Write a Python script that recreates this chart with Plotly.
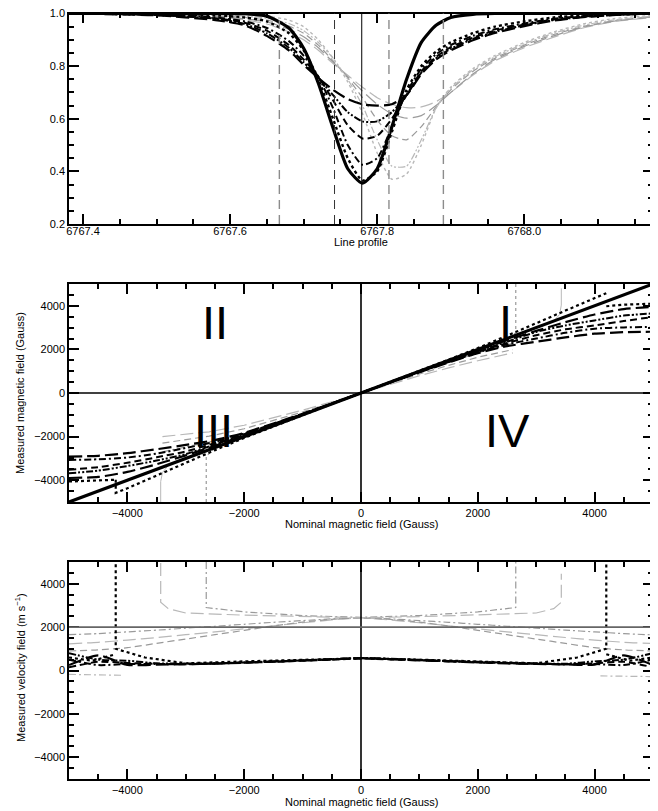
import plotly.graph_objects as go

FONT = "Liberation Sans, Arial, Helvetica, sans-serif"
# the page adds an 8px body margin, so the figure is drawn 8px smaller and offset
OFF = 8
W, H = 658 - OFF, 811 - OFF

# ---------------- Panel 1: line profiles ----------------
wavelength = [6767.38, 6767.50, 6767.58, 6767.62, 6767.65, 6767.68, 6767.70, 6767.72,
              6767.74, 6767.76, 6767.78, 6767.80, 6767.82, 6767.84, 6767.86, 6767.88,
              6767.90, 6767.93, 6767.96, 6768.00, 6768.04, 6768.08, 6768.12, 6768.175]
prof_black_thick = [1.0, 1.0, 1.0, 0.999, 0.99, 0.945, 0.868, 0.735, 0.565, 0.41, 0.355, 0.41,
                    0.57, 0.75, 0.89, 0.955, 0.985, 0.997, 1.0, 1.0, 1.0, 1.0, 1.0, 1.0]
prof_black_dot = [1.0, 0.998, 0.993, 0.985, 0.97, 0.925, 0.86, 0.75, 0.6, 0.45, 0.365, 0.40,
                  0.55, 0.71, 0.80, 0.855, 0.89, 0.925, 0.95, 0.97, 0.985, 0.993, 0.998, 1.0]
prof_black_dashdot = [1.0, 0.996, 0.985, 0.97, 0.945, 0.895, 0.84, 0.76, 0.64, 0.5, 0.425, 0.45,
                      0.57, 0.7, 0.79, 0.845, 0.88, 0.915, 0.94, 0.962, 0.98, 0.99, 0.996, 1.0]
prof_black_dash = [1.0, 0.995, 0.982, 0.965, 0.935, 0.88, 0.825, 0.76, 0.67, 0.575, 0.525, 0.535,
                   0.6, 0.69, 0.78, 0.835, 0.872, 0.908, 0.935, 0.958, 0.977, 0.988, 0.995, 1.0]
prof_black_dashdotdot = [1.0, 0.994, 0.98, 0.96, 0.925, 0.87, 0.815, 0.755, 0.69, 0.625, 0.59, 0.59,
                         0.625, 0.69, 0.775, 0.83, 0.866, 0.903, 0.93, 0.955, 0.975, 0.987, 0.994, 1.0]
prof_black_longdash = [1.0, 0.993, 0.975, 0.955, 0.915, 0.86, 0.805, 0.755, 0.71, 0.675, 0.655, 0.65,
                       0.655, 0.69, 0.77, 0.825, 0.86, 0.898, 0.926, 0.952, 0.973, 0.986, 0.994, 1.0]
prof_gray_dot = [1.0, 1.0, 0.998, 0.995, 0.99, 0.975, 0.95, 0.9, 0.83, 0.74, 0.62, 0.47,
                 0.37, 0.39, 0.5, 0.64, 0.72, 0.79, 0.84, 0.89, 0.93, 0.96, 0.98, 0.993]
prof_gray_dashdotdot = [1.0, 0.999, 0.996, 0.99, 0.982, 0.962, 0.935, 0.89, 0.83, 0.75, 0.65, 0.52,
                        0.42, 0.42, 0.52, 0.64, 0.715, 0.785, 0.835, 0.885, 0.925, 0.955, 0.975, 0.99]
prof_gray_dash = [1.0, 0.998, 0.993, 0.985, 0.975, 0.952, 0.925, 0.88, 0.82, 0.755, 0.68, 0.595,
                  0.535, 0.52, 0.57, 0.645, 0.71, 0.78, 0.83, 0.88, 0.92, 0.95, 0.972, 0.988]
prof_gray_longdash = [1.0, 0.997, 0.99, 0.98, 0.968, 0.94, 0.912, 0.87, 0.815, 0.76, 0.705, 0.655,
                      0.618, 0.602, 0.612, 0.65, 0.7, 0.77, 0.825, 0.875, 0.915, 0.948, 0.97, 0.987]
prof_gray_light = [1.0, 0.996, 0.988, 0.976, 0.96, 0.93, 0.9, 0.86, 0.81, 0.765, 0.72, 0.68,
                   0.655, 0.642, 0.645, 0.665, 0.7, 0.765, 0.82, 0.87, 0.91, 0.945, 0.968, 0.985]
filter_positions_gray = [6767.667, 6767.816, 6767.890]
filter_positions_black = [6767.742]
line_centre = [6767.779]
profile_xticks = [6767.4, 6767.6, 6767.8, 6768.0]
profile_yticks = [0.2, 0.4, 0.6, 0.8, 1.0]

# ---------------- Panel 2: measured vs nominal field ----------------
b_nominal = [-5000, -4500, -4000, -3500, -3000, -2500, -2000, -1500, -1000, -500, 0,
             500, 1000, 1500, 2000, 2500, 3000, 3500, 4000, 4500, 5000]
b_identity = [-5000, -4500, -4000, -3500, -3000, -2500, -2000, -1500, -1000, -500, 0,
              500, 1000, 1500, 2000, 2500, 3000, 3500, 4000, 4500, 5000]
b_black_longdash = [-2920, -2880, -2760, -2580, -2380, -2160, -1830, -1400, -950, -480, 0,
                    480, 950, 1400, 1830, 2150, 2350, 2550, 2720, 2790, 2810]
b_black_dashdot = [-3070, -3040, -2960, -2780, -2520, -2240, -1860, -1420, -960, -485, 0,
                   485, 960, 1420, 1860, 2230, 2500, 2760, 2950, 3010, 3030]
b_black_dash = [-3520, -3400, -3200, -2950, -2680, -2300, -1890, -1440, -970, -490, 0,
                490, 970, 1440, 1890, 2290, 2650, 2920, 3100, 3300, 3490]
b_black_dashdotdot = [-3680, -3560, -3350, -3100, -2800, -2360, -1920, -1460, -980, -492, 0,
                      492, 980, 1460, 1920, 2350, 2800, 3100, 3330, 3550, 3650]
b_black_longdash2 = [-3900, -3850, -3620, -3270, -2860, -2420, -1950, -1470, -985, -495, 0,
                     495, 985, 1470, 1950, 2420, 2850, 3250, 3600, 3850, 3950]
b_dot_x = [-5000, -4500, -4200, None, -4200, -4200, -4000, -3500, -3000, -2500, -2000, -1500,
           -1000, -500, 0, 500, 1000, 1500, 2000, 2500, 3000, 3500, 4000, 4200, None,
           4200, 4500, 5000]
b_dot_y = [-4060, -4000, -3980, None, -3980, -4580, -4370, -3780, -3200, -2620, -2060, -1530,
           -1010, -500, 0, 500, 1010, 1530, 2060, 2620, 3200, 3780, 4370, 4580, None,
           3980, 4050, 4100]
b_gray_x = [-3400, -3000, -2600, -2000, -1500, -1000, -500, 0, 500, 1000, 1500, 2000, 2600]
b_gray_longdash = [-2000, -1900, -1780, -1480, -1150, -790, -400, 0, 400, 790, 1150, 1480, 1840]
b_gray_dash = [-2300, -2150, -1980, -1640, -1270, -870, -440, 0, 440, 870, 1270, 1640, 1990]
b_gray_dashdot = [-2700, -2480, -2250, -1840, -1400, -950, -480, 0, 480, 950, 1400, 1840, 2280]
b_gray_dot_x = [-2650, -2650, -2500, -2000, -1500, -1000, -500, 0, 500, 1000, 1500, 2000,
                2500, 2650, 2650]
b_gray_dot_y = [-5000, -2900, -2520, -2000, -1490, -990, -495, 0, 495, 990, 1490, 2000,
                2520, 2750, 5000]
b_gray_solid_x = [-3430, -3430, -3400, -3300, -3000, -2500, -2000, -1000, 0, 1000, 2000, 2500,
                  3000, 3300, 3400, 3430, 3430]
b_gray_solid_y = [-5000, -4060, -3650, -3320, -3000, -2500, -2000, -990, 0, 990, 2000, 2500,
                  3000, 3300, 3600, 4030, 4800]
quadrant_labels = ["II", "I", "III", "IV"]
quadrant_x = [-2500, 2480, -2520, 2500]
quadrant_y = [3230, 3270, -1740, -1720]
field_ticks = [-4000, -2000, 0, 2000, 4000]

# ---------------- Panel 3: measured velocity ----------------
v_black_longdash = [250, 700, 260, 270, 290, 320, 360, 410, 460, 510, 570,
                    520, 470, 420, 370, 330, 300, 280, 270, 700, 250]
v_black_dashdot = [500, 250, 300, 300, 300, 320, 370, 410, 460, 510, 560,
                   530, 480, 430, 380, 340, 310, 290, 300, 250, 500]
v_black_dash = [150, 400, 350, 300, 290, 320, 360, 400, 450, 500, 550,
                510, 470, 430, 380, 340, 310, 290, 330, 400, 150]
v_black_dashdotdot = [800, 500, 450, 330, 320, 330, 370, 420, 470, 520, 580,
                      540, 490, 440, 400, 360, 330, 310, 420, 500, 800]
v_dot_x = [-5000, -4600, -4200, None, -4200, -4200, -3700, -3000, -2000, -1000, 0,
           1000, 2000, 3000, 3700, 4200, 4200, None, 4200, 4600, 5000]
v_dot_y = [600, 450, 750, None, 4900, 1000, 600, 330, 420, 500, 560,
           500, 420, 330, 600, 1000, 4900, None, 750, 450, 600]
v_gray_down1 = [1650, 1700, 1780, 1860, 1950, 2040, 2130, 2220, 2300, 2380, 2430,
                2380, 2300, 2220, 2130, 2040, 1950, 1860, 1780, 1700, 1640]
v_gray_down2 = [1230, 1300, 1400, 1520, 1650, 1780, 1920, 2060, 2200, 2330, 2420,
                2330, 2200, 2060, 1920, 1780, 1650, 1520, 1400, 1300, 1240]
v_gray_down3 = [900, 950, 1050, 1250, 1450, 1650, 1850, 2050, 2230, 2360, 2420,
                2360, 2230, 2050, 1850, 1650, 1450, 1250, 1050, 950, 900]
v_gray_neg_x = [-5000, -4100, None, 4100, 5000]
v_gray_neg_y = [-180, -220, None, -250, -280]
v_gray_dot_x = [-2650, -2650, -2000, -1000, 0, 1000, 2000, 2650, 2650]
v_gray_dot_y = [5000, 2900, 2700, 2530, 2450, 2530, 2700, 2900, 5000]
v_gray_ld_x = [-3430, -3430, -3300, -3000, -2000, -1000, 0, 1000, 2000, 3000, 3300, 3430, 3430]
v_gray_ld_y = [4950, 3150, 2850, 2650, 2550, 2480, 2430, 2480, 2550, 2650, 2850, 3150, 4460]
velocity_reference = [2000]
field_zero = [0]
velocity_ticks = [-4000, -2000, 0, 2000, 4000]

# ---------------- styles ----------------
DASH = "7px,4px"
LONGDASH = "13px,5px"
DASHDOT = "7px,3px,2px,3px"
DASHDOTDOT = "7px,2px,2px,2px,2px,2px"
GRAY = "#9a9a9a"
LGRAY = "#b8b8b8"

fig = go.Figure()


def add(x, y, ax, color, width, dash, shape="spline"):
    fig.add_trace(go.Scatter(x=x, y=y, xaxis=ax[0], yaxis=ax[1], mode="lines",
                             line=dict(color=color, width=width, dash=dash, shape=shape,
                                       smoothing=0.6),
                             connectgaps=False, showlegend=False, hoverinfo="skip"))


P1 = ("x", "y")
P2 = ("x2", "y2")
P3 = ("x3", "y3")

# Panel 1
add(wavelength, prof_gray_light, P1, LGRAY, 1.2, LONGDASH)
add(wavelength, prof_gray_longdash, P1, GRAY, 1.2, LONGDASH)
add(wavelength, prof_gray_dash, P1, GRAY, 1.2, DASH)
add(wavelength, prof_gray_dashdotdot, P1, LGRAY, 1.2, DASHDOTDOT)
add(wavelength, prof_gray_dot, P1, LGRAY, 1.4, "dot")
add(wavelength, prof_black_longdash, P1, "black", 2.2, LONGDASH)
add(wavelength, prof_black_dashdotdot, P1, "black", 2.0, DASHDOTDOT)
add(wavelength, prof_black_dash, P1, "black", 2.0, DASH)
add(wavelength, prof_black_dashdot, P1, "black", 2.0, DASHDOT)
add(wavelength, prof_black_dot, P1, "black", 2.4, "dot")
add(wavelength, prof_black_thick, P1, "black", 3.2, "solid")

# Panel 2
add(b_gray_x, b_gray_longdash, P2, LGRAY, 1.2, LONGDASH, "linear")
add(b_gray_x, b_gray_dash, P2, GRAY, 1.2, DASH, "linear")
add(b_gray_x, b_gray_dashdot, P2, GRAY, 1.2, DASHDOT, "linear")
add(b_gray_dot_x, b_gray_dot_y, P2, GRAY, 1.2, "dot", "linear")
add(b_gray_solid_x, b_gray_solid_y, P2, LGRAY, 1.0, "solid", "linear")
add(b_nominal, b_black_longdash, P2, "black", 2.2, LONGDASH)
add(b_nominal, b_black_dashdot, P2, "black", 2.0, DASHDOT)
add(b_nominal, b_black_dash, P2, "black", 2.0, DASH)
add(b_nominal, b_black_dashdotdot, P2, "black", 2.0, DASHDOTDOT)
add(b_nominal, b_black_longdash2, P2, "black", 2.2, LONGDASH)
add(b_dot_x, b_dot_y, P2, "black", 2.2, "dot", "linear")
add(b_nominal, b_identity, P2, "black", 3.2, "solid", "linear")

# Panel 3
add(b_nominal, v_gray_down1, P3, GRAY, 1.2, DASHDOT)
add(b_nominal, v_gray_down2, P3, LGRAY, 1.2, LONGDASH)
add(b_nominal, v_gray_down3, P3, GRAY, 1.2, DASH)
add(v_gray_neg_x, v_gray_neg_y, P3, LGRAY, 1.2, DASHDOT, "linear")
add(v_gray_dot_x, v_gray_dot_y, P3, GRAY, 1.2, DASHDOT, "linear")
add(v_gray_ld_x, v_gray_ld_y, P3, LGRAY, 1.2, LONGDASH, "linear")
add(b_nominal, v_black_longdash, P3, "black", 2.2, LONGDASH)
add(b_nominal, v_black_dashdot, P3, "black", 2.0, DASHDOT)
add(b_nominal, v_black_dash, P3, "black", 2.0, DASH)
add(b_nominal, v_black_dashdotdot, P3, "black", 2.0, DASHDOTDOT)
add(v_dot_x, v_dot_y, P3, "black", 2.2, "dot", "linear")

# reference lines
for v in filter_positions_gray:
    fig.add_shape(type="line", xref="x", yref="y domain", x0=v, x1=v, y0=0, y1=1,
                  line=dict(color="#8c8c8c", width=1.4, dash="9px,6px"))
for v in filter_positions_black:
    fig.add_shape(type="line", xref="x", yref="y domain", x0=v, x1=v, y0=0, y1=1,
                  line=dict(color="#333333", width=1.0, dash="9px,6px"))
for v in line_centre:
    fig.add_shape(type="line", xref="x", yref="y domain", x0=v, x1=v, y0=0, y1=1,
                  line=dict(color="black", width=1.0))
for v in field_zero:
    for xr, yr in (("x2", "y2"), ("x3", "y3")):
        fig.add_shape(type="line", xref=xr, yref=yr + " domain", x0=v, x1=v, y0=0, y1=1,
                      line=dict(color="black", width=1.6))
    fig.add_shape(type="line", xref="x2 domain", yref="y2", x0=0, x1=1, y0=v, y1=v,
                  line=dict(color="black", width=1.6))
for v in velocity_reference:
    fig.add_shape(type="line", xref="x3 domain", yref="y3", x0=0, x1=1, y0=v, y1=v,
                  line=dict(color="#666666", width=1.6))

# quadrant labels
for lab, qx, qy in zip(quadrant_labels, quadrant_x, quadrant_y):
    fig.add_annotation(x=qx, y=qy, xref="x2", yref="y2", showarrow=False, text=lab,
                       font=dict(family=FONT, size=47, color="black"))


def pxx(p):
    return (p - OFF) / W


def pyy(p):
    return 1 - (p - OFF) / H


XD = [pxx(69), pxx(653)]

axis_common = dict(showline=True, linecolor="black", linewidth=1.5, mirror="allticks",
                   ticks="inside", ticklen=10, tickwidth=1.5, tickcolor="black",
                   showgrid=False, zeroline=False, automargin=False,
                   tickfont=dict(family=FONT, size=11, color="black"))

fig.update_layout(
    width=W, height=H, margin=dict(l=0, r=0, t=0, b=0, autoexpand=False),
    paper_bgcolor="white", plot_bgcolor="white", showlegend=False,
    font=dict(family=FONT, size=11, color="black"),
    xaxis=dict(domain=XD, anchor="y", range=[6767.381, 6768.175], tickvals=profile_xticks,
               tickformat=".1f", ticklabelstandoff=-4,
               minor=dict(ticks="inside", ticklen=5, dtick=0.05, tick0=6767.4, tickcolor="black"),
               **axis_common),
    yaxis=dict(domain=[pyy(224), pyy(13.5)], anchor="x", range=[0.2, 1.0], tickvals=profile_yticks,
               tickformat=".1f", ticklabeloverflow="allow",
               minor=dict(ticks="inside", ticklen=5, dtick=0.05, tick0=0.2, tickcolor="black"),
               **axis_common),
    xaxis2=dict(domain=XD, anchor="y2", range=[-5000, 5000], tickvals=field_ticks,
                minor=dict(ticks="inside", ticklen=5, dtick=500, tick0=0, tickcolor="black"),
                **axis_common),
    yaxis2=dict(domain=[pyy(502), pyy(284)], anchor="x2", range=[-5000, 5000], tickvals=field_ticks,
                minor=dict(ticks="inside", ticklen=5, dtick=500, tick0=0, tickcolor="black"),
                **axis_common),
    xaxis3=dict(domain=XD, anchor="y3", range=[-5000, 5000], tickvals=field_ticks,
                minor=dict(ticks="inside", ticklen=5, dtick=500, tick0=0, tickcolor="black"),
                **axis_common),
    yaxis3=dict(domain=[pyy(779), pyy(562)], anchor="x3", range=[-5000, 5000], tickvals=velocity_ticks,
                minor=dict(ticks="inside", ticklen=5, dtick=500, tick0=0, tickcolor="black"),
                **axis_common),
)

titles = [
    ("Line profile", pxx(361), pyy(242), 0),
    ("Nominal magnetic field (Gauss)", pxx(361), pyy(524), 0),
    ("Nominal magnetic field (Gauss)", pxx(361), pyy(802), 0),
    ("Measured magnetic field (Gauss)", pxx(20), pyy(393), -90),
    ("Measured velocity field (m s<sup>−1</sup>)", pxx(20), pyy(668), -90),
]
for txt, tx, ty, ang in titles:
    fig.add_annotation(x=tx, y=ty, xref="paper", yref="paper", text=txt, showarrow=False,
                       textangle=ang, xanchor="center", yanchor="middle",
                       font=dict(family=FONT, size=11, color="black"))

fig.write_html("out.html")
